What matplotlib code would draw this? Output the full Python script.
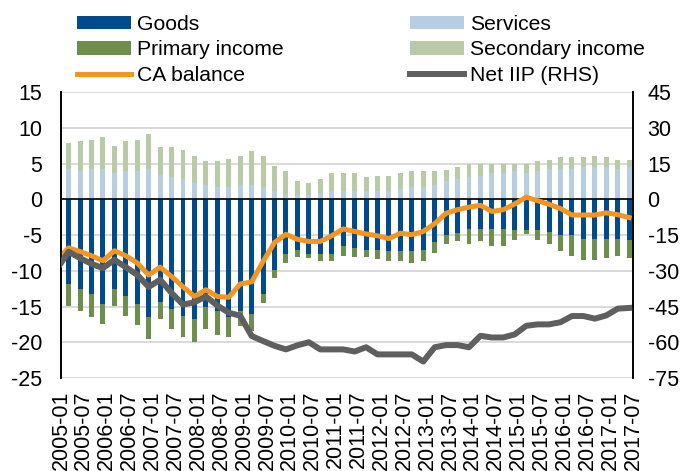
import matplotlib
matplotlib.use('Agg')
import matplotlib.pyplot as plt
import numpy as np
import pandas as pd

plt.rcParams['font.family'] = ['Liberation Sans', 'DejaVu Sans']
plt.rcParams['axes.unicode_minus'] = False

# quarterly data, bars 2005Q1-2017Q2; lines start one quarter earlier
quarters = pd.period_range('2005Q1', '2017Q2', freq='Q')
line_quarters = pd.period_range('2004Q4', '2017Q2', freq='Q')

goods = [-11.8, -12.6, -13.2, -14.6, -12.6, -13.5, -14.6, -16.5, -14.4, -15.4,
         -16.3, -16.8, -15.1, -15.6, -16.5, -15.6, -16.0, -13.2, -9.9, -7.6,
         -7.1, -7.6, -7.6, -7.6, -6.5, -6.8, -7.1, -7.1, -7.3, -7.3,
         -7.3, -7.1, -5.95, -5.05, -4.7, -4.1, -4.1, -4.1, -4.1, -4.35,
         -4.3, -4.35, -4.6, -4.95, -4.95, -5.5, -5.5, -5.5, -5.5, -5.7]
services = [4.3, 3.9, 4.3, 4.3, 3.7, 3.9, 3.9, 4.3, 3.4, 3.1,
            2.8, 2.3, 2.0, 1.7, 1.7, 2.0, 2.0, 1.7, 1.2, 0.65,
            0.65, 0.65, 0.9, 1.2, 1.2, 1.2, 1.2, 1.2, 1.2, 1.5,
            1.7, 1.7, 2.0, 2.6, 2.8, 3.1, 3.3, 3.7, 3.7, 3.9,
            3.65, 3.9, 4.25, 4.25, 4.25, 4.5, 4.5, 4.5, 4.25, 4.5]
primary_income = [-3.1, -3.0, -3.3, -2.8, -2.3, -2.8, -3.0, -3.1, -2.4, -2.8,
                  -2.9, -3.2, -3.1, -3.4, -2.7, -2.1, -2.4, -1.3, -1.05, -1.3,
                  -1.0, -0.6, -1.1, -1.1, -1.4, -1.3, -1.0, -1.3, -1.4, -1.4,
                  -1.6, -1.6, -1.6, -1.15, -1.2, -2.15, -1.8, -2.5, -2.4, -1.35,
                  -0.6, -1.35, -1.65, -2.35, -2.95, -3.0, -3.0, -2.7, -2.4, -2.5]
secondary_income = [3.6, 4.2, 4.0, 4.4, 3.8, 4.2, 4.4, 4.9, 3.9, 4.2,
                    4.1, 3.8, 3.35, 3.6, 3.9, 4.0, 4.7, 4.4, 3.5, 3.35,
                    1.95, 1.65, 2.0, 2.5, 2.5, 2.5, 1.9, 2.1, 2.1, 2.2,
                    2.2, 2.2, 1.9, 1.5, 1.7, 1.9, 1.7, 1.3, 1.3, 1.1,
                    1.35, 1.4, 1.3, 1.65, 1.65, 1.4, 1.6, 1.4, 1.3, 1.05]
ca_balance = [-8.45, -6.8, -7.3, -7.9, -8.6, -7.2, -7.9, -8.9, -10.6, -9.5, -10.8,
              -12.25, -13.6, -12.65, -13.6, -13.7, -11.85, -11.55, -8.7, -6.05, -4.9,
              -5.6, -5.9, -5.9, -5.1, -4.15, -4.5, -4.85, -5.1, -5.5, -4.75,
              -4.95, -4.5, -3.4, -1.95, -1.45, -1.1, -0.85, -1.7, -1.45, -0.65,
              0.3, -0.2, -0.7, -1.3, -2.2, -2.2, -2.2, -1.9, -2.15, -2.55]
net_iip = [-29.1, -22.0, -24.7, -27.1, -28.9, -25.4, -28.5, -31.7, -36.8, -33.75, -39.3,
           -44.2, -43.2, -40.8, -44.6, -47.6, -48.9, -57.4, -59.5, -61.5, -63.0,
           -61.3, -60.0, -63.0, -63.0, -63.0, -63.9, -62.1, -65.1, -65.1, -65.1,
           -65.1, -68.1, -62.1, -61.2, -61.2, -62.1, -57.3, -58.0, -58.0, -56.7,
           -53.1, -52.5, -52.5, -51.6, -49.0, -49.0, -50.1, -48.75, -45.9, -45.6]

colors = {
    'goods': '#004b8d',
    'services': '#b6cde2',
    'primary': '#6e8f4c',
    'secondary': '#b9caa7',
    'ca': '#f59521',
    'iip': '#5f5f5f',
}


def month_pos(periods):
    # months since 2005-01, each quarter placed on its last month
    return np.array([(p.year - 2005) * 12 + p.quarter * 3 - 1 for p in periods])


x = month_pos(quarters)
x_line = month_pos(line_quarters)

fig = plt.figure(figsize=(6.86, 4.71), dpi=100)
ax = fig.add_axes([0.0889, 0.1975, 0.8338, 0.607])
ax2 = ax.twinx()

w = 1.3
b_goods = ax.bar(x, goods, width=w, color=colors['goods'], zorder=2)
b_serv = ax.bar(x, services, width=w, color=colors['services'], zorder=2)
b_prim = ax.bar(x, primary_income, width=w, bottom=goods, color=colors['primary'], zorder=2)
b_sec = ax.bar(x, secondary_income, width=w, bottom=services, color=colors['secondary'], zorder=2)
ax.axhline(0, color='black', lw=1.2, zorder=3)
l_ca, = ax.plot(x_line, ca_balance, color=colors['ca'], lw=3.6, zorder=4)
l_iip, = ax2.plot(x_line, net_iip, color=colors['iip'], lw=4.3, zorder=4)

ax.set_xlim(0, 150)
ax.set_ylim(-25, 15)
ax2.set_ylim(-75, 45)
ax.set_yticks(range(-25, 16, 5))
ax2.set_yticks(range(-75, 46, 15))

tick_pos = list(range(0, 151, 6))
tick_labels = [f'{2005 + m // 12}-{m % 12 + 1:02d}' for m in tick_pos]
ax.set_xticks(tick_pos)
ax.set_xticklabels(tick_labels, rotation=90, va='top', ha='center')

ax.yaxis.grid(True, color='#d9d9d9', lw=1.4)
ax.set_axisbelow(True)

for a in (ax, ax2):
    a.spines['top'].set_visible(False)
    a.spines['bottom'].set_visible(False)
    a.spines['left'].set_color('black')
    a.spines['right'].set_color('black')
    a.spines['left'].set_linewidth(1.2)
    a.spines['right'].set_linewidth(1.2)

ax.tick_params(axis='y', length=0, pad=13.5, labelsize=15.5)
ax2.tick_params(axis='y', length=0, pad=10.5, labelsize=15.5)
ax.tick_params(axis='x', length=0, pad=9, labelsize=15.5)

handles = [b_goods, b_prim, l_ca, b_serv, b_sec, l_iip]
labels = ['Goods', 'Primary income', 'CA balance', 'Services', 'Secondary income', 'Net IIP (RHS)']
fig.legend(handles, labels, loc='upper left', bbox_to_anchor=(0.112, 0.968), ncol=2,
           frameon=False, fontsize=15.2, handlelength=2.55, handleheight=0.6,
           handletextpad=0.3, columnspacing=6.0, labelspacing=0.3,
           borderaxespad=0, borderpad=0)

fig.savefig('out.png', dpi=100)
